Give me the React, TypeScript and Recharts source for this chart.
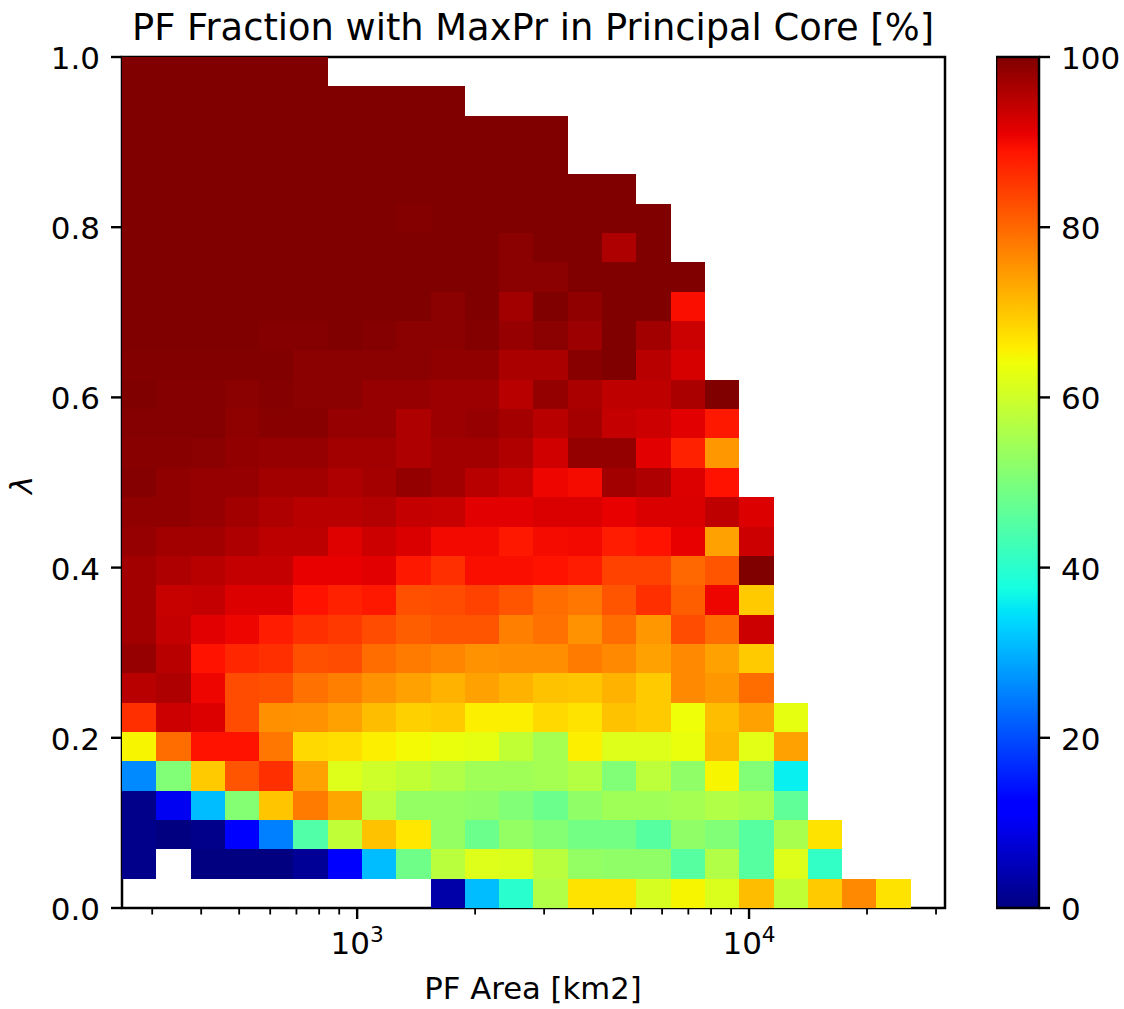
import React from "react";
import { ScatterChart, Scatter, XAxis, YAxis, ReferenceArea, BarChart, Bar } from "recharts";

// Bin centres of the 2-D histogram
const areaCenters = [277.8, 339.8, 415.6, 508.4, 621.9, 760.7, 930.5, 1138.2, 1392.2, 1703, 2083, 2548, 3117, 3813, 4664, 5705, 6978, 8536, 10441, 12772, 15622, 19110, 23375, 28593];
const lambdaCenters = [0.9828, 0.9483, 0.9138, 0.8793, 0.8448, 0.8103, 0.7759, 0.7414, 0.7069, 0.6724, 0.6379, 0.6034, 0.569, 0.5345, 0.5, 0.4655, 0.431, 0.3966, 0.3621, 0.3276, 0.2931, 0.2586, 0.2241, 0.1897, 0.1552, 0.1207, 0.0862, 0.0517, 0.0172];

// Values (%), one list per lambda row from the top, left to right
const n = null;
const row00 = [100, 100, 100, 100, 100, 100];
const row01 = [100, 100, 100, 100, 100, 100, 100, 100, 100, 100];
const row02 = [100, 100, 100, 100, 100, 100, 100, 100, 100, 100, 100, 100, 100];
const row03 = [100, 100, 100, 100, 100, 100, 100, 100, 100, 100, 100, 100, 100];
const row04 = [100, 100, 100, 100, 100, 100, 100, 100, 100, 100, 100, 100, 100, 100, 100];
const row05 = [100, 100, 100, 100, 100, 100, 100, 100, 99.6, 100, 100, 100, 100, 100, 100, 100];
const row06 = [100, 100, 100, 100, 100, 100, 100, 100, 100, 100, 100, 99, 100, 100, 96, 100];
const row07 = [100, 100, 100, 100, 100, 100, 100, 100, 100, 100, 100, 99, 99, 100, 100, 100, 100];
const row08 = [100, 100, 100, 100, 100, 100, 100, 100, 100, 99, 100, 97, 100, 98.5, 100, 100, 89.5];
const row09 = [100, 100, 100, 100, 99.5, 99.5, 100, 99.5, 99, 99, 99.6, 98, 99, 97.5, 100, 97, 93.5];
const row10 = [99.8, 99.8, 99.8, 99.8, 99.8, 99, 99, 99, 99, 98.5, 98.5, 96.3, 96.3, 99.3, 100, 95, 92.5];
const row11 = [100, 99.5, 99.5, 99, 99.5, 99, 99, 98, 98, 97.5, 97.5, 95, 98.2, 96.3, 94.5, 94.5, 96.3, 100];
const row12 = [99.5, 99.5, 99.5, 98.7, 99.3, 99.3, 98, 98, 96, 97.5, 98, 96.8, 95, 96.8, 94, 93.4, 91.5, 88.5];
const row13 = [99.3, 99.3, 99, 98.3, 98, 98, 97, 97, 96, 97, 97, 95.8, 93, 98.2, 98.2, 91.5, 87.5, 75];
const row14 = [99.5, 98.5, 98, 98, 97, 97, 96, 96.8, 98.2, 97, 95, 93.8, 90.5, 89.8, 97, 96, 92, 89];
const row15 = [98.5, 98.5, 98, 97, 96, 95, 95, 95.6, 94, 93.8, 91.5, 91.5, 92.2, 92.2, 91, 92.2, 92.2, 94.5, 92];
const row16 = [98, 97, 97, 96, 94.8, 94.8, 91.8, 93.3, 92.2, 90, 90, 88.5, 89.8, 90, 88, 89, 91, 74, 93.4];
const row17 = [97, 96, 95, 94, 94, 91, 91, 91.5, 88.5, 86, 89.5, 89.5, 89, 88, 84, 84, 80, 82, 100];
const row18 = [97, 93.8, 94, 92, 92, 89, 87.5, 88.5, 82.5, 83, 84, 82, 79.5, 78.5, 82, 86, 81, 90.5, 69.5];
const row19 = [97, 94, 91.5, 90.5, 88, 86, 85, 83, 81, 82, 82, 77.5, 79, 75.5, 79.5, 75, 83, 79.5, 93.4];
const row20 = [98, 95, 89, 87, 86, 82.5, 83, 79.5, 78, 77, 75.5, 76, 76, 78, 76.5, 74, 76.5, 74, 69.5];
const row21 = [95, 96, 90.5, 83, 82.5, 79, 77.5, 75.5, 74, 72, 74, 72, 70.5, 70, 72, 69.5, 76.5, 75, 79.5];
const row22 = [86, 93.4, 92, 83, 75.7, 75.5, 74, 71, 69, 69.5, 65.6, 65.6, 68, 67, 70.5, 69.5, 64, 71, 74, 63];
const row23 = [65, 79.5, 89, 89, 78.5, 68, 67.5, 65.6, 64.5, 63.5, 63, 58.5, 55, 65.6, 62, 62, 63.5, 71.5, 62.5, 74];
const row24 = [26, 50.5, 69.5, 82, 86, 74, 62, 60, 58.5, 56.5, 54.5, 54.5, 55, 57, 50.5, 58, 52.5, 65, 50.5, 36];
const row25 = [1, 10, 31, 51, 70, 78, 73.5, 58, 53, 53, 52.5, 50.5, 48, 52.5, 54.5, 54.5, 55, 56.5, 55.5, 46.7];
const row26 = [1, 0, 1, 11, 25, 44.7, 58.3, 70.5, 66.5, 53, 48, 53, 51, 49, 49, 45.5, 52.5, 50.5, 45.5, 55.5, 67];
const row27 = [1, n, 0, 0, 0, 2, 12.5, 31, 48.5, 57.5, 62, 61.5, 57.5, 53, 52.5, 52.5, 45.5, 56.5, 45.5, 62, 41];
const row28 = [n, n, n, n, n, n, n, n, n, 3.5, 31, 40, 56.5, 67, 67, 61, 65, 61.5, 71, 58.5, 69.5, 76.5, 67];
const rows = [row00, row01, row02, row03, row04, row05, row06, row07, row08, row09, row10, row11, row12, row13, row14, row15, row16, row17, row18, row19, row20, row21, row22, row23, row24, row25, row26, row27, row28];

const xMajorTicks = [1000, 10000];
const xMinorTicks = [300, 400, 500, 600, 700, 800, 900, 2000, 3000, 4000, 5000, 6000, 7000, 8000, 9000, 20000, 30000];
const yTicks = [0, 0.2, 0.4, 0.6, 0.8, 1];
const colorbarTicks = [0, 20, 40, 60, 80, 100];
const colorbarData = [{ name: "scale", top: 100 }];

const cells = rows.flatMap((row, r) =>
  row.flatMap((v, c) => (v === null ? [] : [{ area: areaCenters[c], lambda: lambdaCenters[r], value: v }]))
);

const FONT = "'DejaVu Sans'";
const TICK_PX = 31;
const PLOT_LEFT = 122;
const PLOT_RIGHT = 945;
const PLOT_TOP = 57;
const PLOT_BOTTOM = 908;
const CELL_W = (PLOT_RIGHT - PLOT_LEFT) / areaCenters.length;
const CELL_H = (PLOT_BOTTOM - PLOT_TOP) / lambdaCenters.length;

const ramp = (v: number, pts: number[][]) => {
  for (let i = 1; i < pts.length; i++) {
    if (v <= pts[i][0]) {
      const [x0, y0] = pts[i - 1];
      const [x1, y1] = pts[i];
      return y0 + ((v - x0) / (x1 - x0)) * (y1 - y0);
    }
  }
  return pts[pts.length - 1][1];
};
const jet = (pct: number) => {
  const v = pct / 100;
  const r = ramp(v, [[0, 0], [0.35, 0], [0.66, 1], [0.89, 1], [1, 0.5]]);
  const g = ramp(v, [[0, 0], [0.125, 0], [0.375, 1], [0.64, 1], [0.91, 0], [1, 0]]);
  const b = ramp(v, [[0, 0.5], [0.11, 1], [0.34, 1], [0.65, 0], [1, 0]]);
  return `rgb(${Math.round(r * 255)},${Math.round(g * 255)},${Math.round(b * 255)})`;
};
const gradientStops = [0, 0.11, 0.125, 0.34, 0.35, 0.375, 0.64, 0.65, 0.66, 0.89, 0.91, 1];

const CellShape = (props: any) => (
  <rect
    x={props.cx - CELL_W / 2}
    y={props.cy - CELL_H / 2}
    width={CELL_W}
    height={CELL_H}
    fill={jet(props.payload.value)}
    shapeRendering="crispEdges"
  />
);

const XTick = (props: any) => {
  const { x, payload } = props;
  const major = xMajorTicks.includes(payload.value);
  const exp = Math.round(Math.log10(payload.value));
  return (
    <g>
      <line x1={x} x2={x} y1={PLOT_BOTTOM} y2={PLOT_BOTTOM + (major ? 11 : 6.5)} stroke="#000" strokeWidth={major ? 2.4 : 1.8} />
      {major && (
        <text x={x} y={PLOT_BOTTOM + 46} textAnchor="middle" fontFamily={FONT} fontSize={TICK_PX} fill="#000">
          10
          <tspan fontSize={TICK_PX * 0.7} dy={-12}>{exp}</tspan>
        </text>
      )}
    </g>
  );
};

export default function App() {
  return (
    <div style={{ position: "absolute", left: 0, top: 0, width: 1124, height: 1009, overflow: "hidden", background: "#fff" }}>
      <div style={{ position: "absolute", left: 0, top: 0 }}>
        <ScatterChart width={1124} height={1009} margin={{ left: 22, right: 179, top: 57, bottom: 41 }}>
          <text x={533} y={40} textAnchor="middle" fontFamily={FONT} fontSize={36.8} fill="#000">
            PF Fraction with MaxPr in Principal Core [%]
          </text>
          <text x={533} y={999} textAnchor="middle" fontFamily={FONT} fontSize={30.7} fill="#000">
            PF Area [km2]
          </text>
          <text x={32} y={485} textAnchor="middle" fontFamily={FONT} fontStyle="italic" fontSize={30.7} fill="#000" transform="rotate(-90 32 485)">
            λ
          </text>
          <XAxis
            type="number"
            dataKey="area"
            scale="log"
            domain={[251.19, 31623]}
            allowDataOverflow
            ticks={[...xMinorTicks, ...xMajorTicks]}
            interval={0}
            height={60}
            axisLine={false}
            tickLine={false}
            tick={XTick}
          />
          <YAxis
            type="number"
            dataKey="lambda"
            domain={[0, 1]}
            ticks={yTicks}
            interval={0}
            width={100}
            axisLine={false}
            tickSize={11}
            tickMargin={11}
            dy={1}
            tickLine={{ stroke: "#000", strokeWidth: 2.4 }}
            tick={{ fill: "#000", fontFamily: FONT, fontSize: TICK_PX }}
            tickFormatter={(v: number) => v.toFixed(1)}
          />
          <Scatter data={cells} isAnimationActive={false} shape={CellShape} />
          <ReferenceArea x1={251.19} x2={31623} y1={0} y2={1} fill="none" stroke="#000" strokeWidth={2.5} />
        </ScatterChart>
      </div>
      <div style={{ position: "absolute", left: 996, top: 0 }}>
        <BarChart width={128} height={1009} data={colorbarData} margin={{ left: 0, right: 0, top: 57, bottom: 101 }} barCategoryGap={0}>
          <defs>
            <linearGradient id="jetGrad" x1="0" y1="1" x2="0" y2="0">
              {gradientStops.map((s) => (
                <stop key={s} offset={s} stopColor={jet(s * 100)} />
              ))}
            </linearGradient>
          </defs>
          <XAxis dataKey="name" hide />
          <YAxis
            orientation="right"
            domain={[0, 100]}
            ticks={colorbarTicks}
            interval={0}
            width={85}
            axisLine={false}
            tickSize={11}
            tickMargin={11}
            dy={1}
            tickLine={{ stroke: "#000", strokeWidth: 2.4 }}
            tick={{ fill: "#000", fontFamily: FONT, fontSize: TICK_PX, textAnchor: "start" }}
          />
          <Bar dataKey="top" fill="url(#jetGrad)" stroke="#000" strokeWidth={2.5} isAnimationActive={false} />
        </BarChart>
      </div>
    </div>
  );
}
